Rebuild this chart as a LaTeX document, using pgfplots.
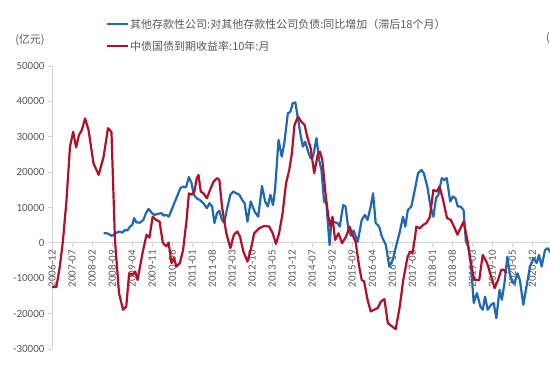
\documentclass[border=0pt]{standalone}
\usepackage{fontspec}
\setmainfont{Carlito}
\newfontfamily\cjk{Noto Sans CJK SC}
\usepackage{pgfplots}
\pgfplotsset{compat=1.18}
\definecolor{bl}{RGB}{31,105,180}
\definecolor{rd}{RGB}{176,16,40}
\definecolor{tx}{RGB}{89,89,89}
\definecolor{ax}{RGB}{210,210,210}
\begin{document}
\begin{tikzpicture}[x=1pt,y=1pt]
\begin{axis}[
  at={(52pt,25pt)}, anchor=south west, scale only axis,
  width=498pt, height=283pt,
  xmin=0, xmax=171.7, ymin=-30000, ymax=50000,
  axis x line=middle, axis y line=left,
  axis line style={-, draw=ax, line width=0.8pt},
  ytick={-30000,-20000,...,50000},
  xtick={0,6.9,...,166},
  xticklabels={2006-12,2007-07,2008-02,2008-09,2009-04,2009-11,2010-06,2011-01,2011-08,2012-03,2012-10,2013-05,2013-12,2014-07,2015-02,2015-09,2016-04,2016-11,2017-06,2018-01,2018-08,2019-03,2019-10,2020-05,2020-12},
  x tick label style={rotate=90, anchor=east, font=\fontsize{11}{12}\selectfont, text=tx},
  y tick label style={font=\fontsize{11}{12}\selectfont, text=tx},
  /pgf/number format/assume math mode=true,
  /pgf/number format/1000 sep={},
  scaled y ticks=false,
  hide obscured x ticks=false,
  hide obscured y ticks=false,
  tick align=outside,
  major tick length=4pt,
  tick style={draw=ax, line width=0.8pt},
  clip=true,
]
\addplot[bl, line width=2.2pt, line join=round] coordinates {
(17.8,2700)(19,2700)(20.7,2000)(21.9,2700)(23.1,3200)(24.3,2900)(25.2,3700)(26,3500)(26.9,4600)(27.7,5100)
(28.3,7000)(29.1,5800)(30.3,5700)(31.5,6500)(32.4,8400)(33.3,9600)(34.5,8400)(35.3,7900)(36.5,8200)(37.7,8400)
(38.6,7700)(39.4,7900)(40.3,7400)(41.7,10300)(43.1,13100)(44.3,15500)(45.2,15900)(46.2,15700)(47.2,18600)(48.1,16900)
(48.9,13600)(49.9,12600)(51,12100)(52.2,11200)(53.4,9800)(54.3,11200)(55.2,10300)(56,5600)(56.9,8400)(57.7,9100)
(58.6,6500)(59.4,5700)(60.4,9800)(61.5,13600)(62.5,14500)(63.6,14000)(64.6,13600)(65.6,12100)(66.4,11200)(67.4,6000)
(68.5,11700)(69.9,8800)(71.1,7400)(72.4,16100)(73.5,11700)(74.4,10300)(75.3,13600)(76.2,10700)(76.9,15000)(78.1,29100)
(79.2,24400)(80.1,28200)(81.3,36600)(82.2,37100)(83,39500)(83.9,39700)(84.8,35200)(85.7,30500)(86.5,27200)(87.3,28600)
(88.3,25800)(89.2,23900)(90,24400)(91.2,29600)(92.1,23400)(92.9,20600)(93.8,11700)(94.6,11200)(95.7,-600)(96.3,5600)
(96.9,6000)(98.4,5600)(99.2,4600)(100.4,10700)(101.2,10300)(102.2,3700)(103.1,2000)(104,3500)(105.4,300)(106.8,6500)
(107.9,7900)(108.8,6500)(109.9,10300)(110.7,14000)(111.6,5600)(112.8,4600)(113.7,1800)(115.1,-600)(116.3,-6700)(117.5,-4800)
(118.6,-1000)(119.8,2700)(121,7400)(121.8,4600)(122.7,9300)(123.9,10300)(125.1,15000)(126.2,19700)(127.4,20600)(128.2,19700)
(129.4,15900)(130.5,10300)(131.5,7400)(132.4,12600)(133.2,13600)(134.4,18300)(135.2,17800)(136.1,18300)(137.3,11700)(138.2,13100)
(139.1,12600)(139.9,10300)(140.8,10300)(141.9,9300)(142.7,400)(143.5,-1000)(144.4,-5700)(145.4,-17000)(146.5,-14200)(147.7,-18000)
(148.5,-18900)(149.3,-15200)(150.2,-18900)(151.4,-17500)(152.3,-17000)(153.2,-21300)(154.3,-13300)(155.1,-16100)(156,-11400)(157,-3900)
(157.8,-8600)(158.7,-10900)(159.5,-11400)(160.5,-8600)(161.3,-10500)(162.5,-17500)(163.6,-12300)(164.8,-6700)(166,-4300)(167.1,-5700)
(167.9,-3400)(168.8,-6700)(170,-2000)(170.9,-1500)(172.1,-2900)(172.9,-4800)
};
\addplot[rd, line width=2.2pt, line join=round] coordinates {
(0,-12500)(1.5,-12500)(2.7,-6700)(3.8,800)(5,12100)(6.2,27200)(7.3,31400)(8.3,27000)(9.3,30500)(10.3,31900)
(11.4,35200)(12.6,31900)(14.3,22500)(16.1,19200)(17.8,24400)(19.3,32400)(20.5,31400)(21.7,800)(23.1,-14200)(24.5,-18900)
(25.6,-18000)(26.6,-8600)(27.7,-9000)(28.7,-8100)(29.5,-10500)(31.2,-2900)(32.6,2300)(33.6,1500)(34.7,7400)(35.9,6500)
(37.1,6000)(38.2,0)(39.4,-1000)(40.2,100)(41.2,-5700)(42,-4300)(42.9,-6700)(44.1,-5700)(45.2,-2000)(46.4,6500)
(47.2,14000)(48.1,13600)(49.1,14500)(49.9,18300)(50.5,19200)(51.3,14500)(52.2,14000)(53.4,12600)(54.5,15000)(55.7,17300)
(56.9,18300)(57.7,17800)(58.6,10300)(60.1,2700)(61.5,-1500)(62.7,2300)(63.9,3200)(64.8,1800)(66,-2500)(67.4,-5300)
(68.5,-2000)(69.7,2700)(71.4,4100)(73.2,4800)(74.9,4600)(76.1,2700)(77.2,-300)(78.3,2700)(79.5,8400)(80.7,16900)
(81.8,20600)(82.7,25300)(83.6,33300)(84.8,35700)(85.9,34300)(87.1,33300)(88,30000)(89.2,26700)(90.4,19700)(91.6,24900)
(92.4,25800)(93.2,23400)(94.4,13100)(95.3,7400)(96.1,4600)(96.7,7400)(97.6,850)(98.8,2700)(100,-100)(101.4,1800)
(102.6,4600)(103.6,2300)(104.7,200)(105.9,-6700)(106.8,-10500)(107.6,-10900)(108.8,-16100)(109.9,-19400)(111.1,-18900)(112.3,-18400)
(113.4,-16600)(114.6,-15900)(115.8,-22700)(116.9,-23400)(118.5,-24400)(119.9,-18000)(121.1,-10500)(122.6,-3900)(123.5,-2500)(124.3,-2900)
(125.2,1800)(125.6,4600)(126.8,4100)(128,5100)(129.1,5600)(130.3,7400)(131.5,15000)(132.6,14500)(133.6,15900)(134.7,12600)
(136.2,7000)(137.5,6500)(138.6,4600)(139.8,2300)(141.9,6000)(143.3,400)(144.4,-5700)(145.6,-10500)(147.3,-10500)(148.5,-3400)
(150,-5700)(151.4,-9500)(152.6,-12800)(153.8,-10500)(154.9,-7600)(155.8,-7600)(156.6,-8600)
};
\end{axis}
\draw[bl, line width=2.2pt] (107,350) -- (128,350);
\node[anchor=west, text=tx, font=\cjk\fontsize{11}{12}\selectfont, inner sep=0pt] at (130,350) {其他存款性公司:对其他存款性公司负债:同比增加（滞后18个月）};
\draw[rd, line width=2.2pt] (107,328) -- (128,328);
\node[anchor=west, text=tx, font=\cjk\fontsize{11}{12}\selectfont, inner sep=0pt] at (130,328) {中债国债到期收益率:10年:月};
\node[text=tx, font=\cjk\fontsize{11}{12}\selectfont, inner sep=0pt] at (30,334) {(亿元)};
\node[anchor=west, text=tx, font=\cjk\fontsize{11}{12}\selectfont, inner sep=0pt] at (546,336) {(};
\pgfresetboundingbox
\useasboundingbox (0,0) rectangle (550,374);
\end{tikzpicture}
\end{document}
